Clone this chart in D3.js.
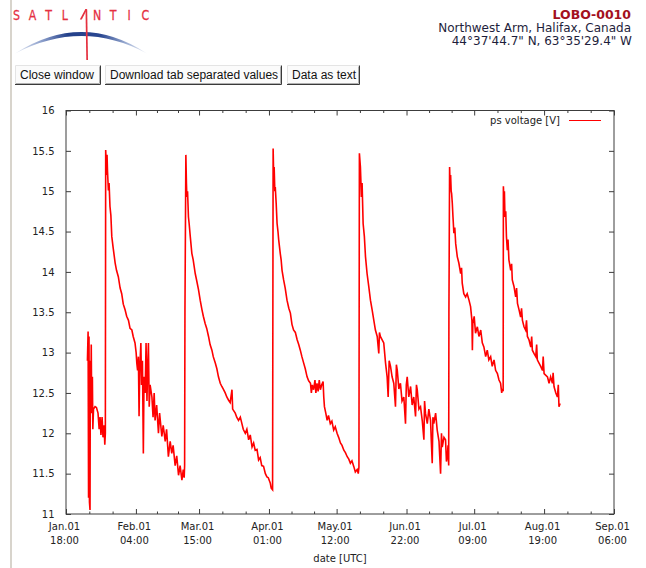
<!DOCTYPE html>
<html>
<head>
<meta charset="utf-8">
<script src="https://cdn.jsdelivr.net/npm/d3@7"></script>
<style>
  body { margin: 0; background: #fff; }
  svg { display: block; }
</style>
</head>
<body>
<svg id="chart"></svg>
<script>
// --- data ---
const station = "LOBO-0010";
const place = "Northwest Arm, Halifax, Canada";
const coords = "44°37'44.7\" N, 63°35'29.4\" W";
const buttonLabels = ["Close window", "Download tab separated values", "Data as text"];
const logoLetters = ["S", "A", "T", "L", "", "N", "T", "I", "C"];

const yTicks = [11, 11.5, 12, 12.5, 13, 13.5, 14, 14.5, 15, 15.5, 16];
const monthStarts = ["2011-01-01", "2011-02-01", "2011-03-01", "2011-04-01", "2011-05-01",
  "2011-06-01", "2011-07-01", "2011-08-01", "2011-09-01"];
const tickDates = ["Jan.01", "Feb.01", "Mar.01", "Apr.01", "May.01", "Jun.01", "Jul.01", "Aug.01", "Sep.01"];
const tickHours = ["18:00", "04:00", "15:00", "01:00", "12:00", "22:00", "09:00", "19:00", "06:00"];
const seriesName = "ps voltage [V]";
const xTitle = "date [UTC]";

// [days after Jan.01, volts]
const voltage = [
  [9.5,12.9],[9.8,13.26],[10.0,11.2],[10.2,13.2],[10.4,11.15],[10.65,11.05],[10.8,12.9],[11.0,12.3],
  [11.2,13.1],[11.4,12.25],[11.7,12.7],[11.9,12.05],[12.2,12.3],[12.9,12.33],[13.5,12.32],[14.2,12.25],
  [14.7,12.05],[15.1,12.2],[15.5,11.98],[16.0,12.2],[16.4,11.95],[16.9,12.1],[17.2,11.86],[17.45,12.0],
  [17.6,15.51],[18.0,15.2],[18.2,15.45],[18.4,15.25],[18.8,15.01],[19.1,15.1],[19.5,14.81],[19.9,14.7],
  [20.3,14.44],[20.9,14.3],[21.8,14.11],[22.4,14.02],[23.2,13.94],[24.0,13.8],[24.7,13.73],[25.4,13.6],
  [26.2,13.53],[26.9,13.45],[27.7,13.4],[28.4,13.3],[29.2,13.28],[29.8,13.2],[30.6,13.12],[31.1,13.0],
  [31.4,12.87],[31.75,12.78],[32.1,12.95],[32.4,12.21],[32.7,12.8],[33.2,13.12],[33.5,12.6],[33.9,12.9],
  [34.3,11.75],[34.6,12.7],[35.1,12.5],[35.5,13.12],[35.9,12.4],[36.2,12.8],[36.55,13.12],[36.9,12.33],
  [37.3,12.6],[38.1,12.45],[38.6,12.2],[39.1,12.5],[39.5,12.16],[40.2,12.35],[41.0,12.0],[41.5,12.25],
  [42.5,11.96],[43.1,12.1],[44.0,11.9],[44.6,12.05],[45.4,11.71],[46.2,11.9],[46.9,11.75],[47.5,11.85],
  [48.4,11.6],[49.1,11.72],[49.9,11.48],[50.6,11.6],[51.4,11.42],[52.0,11.55],[52.4,11.45],[52.6,11.6],
  [52.75,13.53],
  [53.15,15.45],[53.4,15.1],[53.6,14.93],[53.9,15.0],[54.3,14.68],[54.6,14.6],[55.1,14.44],[55.8,14.23],
  [56.4,14.15],[57.3,13.98],[57.9,13.9],[58.75,13.78],[59.5,13.65],[60.3,13.53],[60.9,13.45],[61.7,13.36],
  [62.4,13.3],[63.2,13.2],[63.9,13.1],[64.7,13.03],[65.3,12.95],[66.2,12.87],[66.9,12.8],[67.6,12.7],
  [68.4,12.62],[69.1,12.58],[69.7,12.55],[70.6,12.5],[71.3,12.45],[72.1,12.41],[72.8,12.38],[73.6,12.54],
  [73.9,12.3],[75.05,12.25],[75.7,12.2],[76.5,12.16],[77.3,12.2],[78.0,12.12],[78.6,12.05],[79.5,12.0],
  [80.2,12.05],[81.0,11.92],[81.7,11.98],[82.5,11.83],[83.2,11.88],[83.9,11.79],[84.7,11.8],[85.4,11.67],
  [86.1,11.7],[86.8,11.6],[87.6,11.59],[88.4,11.5],[89.1,11.46],[89.7,11.45],[90.6,11.38],[91.0,11.32],
  [91.6,11.3],
  [91.85,15.53],[92.05,15.25],[92.3,15.3],[92.6,15.0],[92.8,15.05],[93.2,14.85],[93.6,14.6],[94.0,14.5],
  [94.3,14.4],[95.0,14.23],[95.4,14.15],[95.8,14.02],[96.5,13.9],[97.2,13.8],[98.0,13.65],[98.8,13.55],
  [99.5,13.49],[100.2,13.35],[100.9,13.28],[101.7,13.25],[102.5,13.16],[103.2,13.1],[103.9,13.03],
  [104.6,12.95],[105.4,12.87],[106.1,12.8],[106.9,12.7],[107.6,12.65],[108.4,12.62],[108.8,12.5],
  [109.2,12.6],[109.8,12.54],[110.4,12.66],[110.8,12.5],[111.3,12.62],[111.8,12.52],[112.3,12.66],
  [112.8,12.54],[113.4,12.6],[114.0,12.64],[114.3,12.45],[114.6,12.33],[115.2,12.25],[115.8,12.16],
  [116.4,12.22],[117.2,12.12],[117.9,12.15],[118.7,12.04],[119.4,12.08],[120.2,12.0],[120.9,11.95],
  [121.7,11.88],[122.4,11.85],[123.2,11.79],[123.9,11.76],[124.7,11.71],[125.4,11.68],[126.1,11.63],
  [126.8,11.66],[127.6,11.59],[128.3,11.52],[129.1,11.55],[129.6,11.5],[129.9,11.58],
  [130.1,15.47],[130.55,15.3],[131.0,14.93],[131.3,15.1],[131.75,14.6],[132.3,14.44],[132.8,14.19],
  [133.5,13.98],[134.25,13.82],[135.0,13.65],[135.75,13.53],[136.5,13.4],[137.2,13.28],[138.0,13.2],
  [138.7,12.99],[139.0,13.25],[139.4,13.2],[140.9,13.12],[141.7,12.87],[142.4,12.7],[142.85,12.45],
  [143.3,12.9],[143.9,12.83],[144.6,12.7],[145.35,12.62],[146.1,12.33],[146.5,12.85],[146.9,12.78],
  [147.6,12.55],[148.3,12.62],[149.0,12.4],[149.8,12.45],[150.55,12.12],[150.9,12.6],[151.3,12.7],
  [152.0,12.45],[152.8,12.58],[153.5,12.35],[154.2,12.45],[155.0,12.21],[155.4,12.6],[155.75,12.54],
  [156.5,12.3],[157.2,12.33],[158.0,12.15],[158.7,11.92],[159.0,12.4],[159.4,12.25],[160.2,12.12],
  [160.9,12.3],[161.65,12.16],[162.0,11.9],[162.4,11.63],[162.7,12.2],[163.1,12.12],[163.9,12.25],
  [164.6,12.04],[165.4,11.9],[166.1,11.5],[166.5,12.0],[166.85,11.83],[167.6,11.95],[168.3,11.92],
  [168.7,11.65],[169.1,11.71],[169.4,11.85],[169.7,11.6],[169.8,13.49],
  [170.1,15.3],[170.3,15.1],[170.55,15.2],[170.8,15.0],[171.0,14.97],[171.3,14.85],[171.6,14.68],
  [172.0,14.48],[172.4,14.55],[172.8,14.35],[173.5,14.19],[174.2,14.11],[175.0,13.98],[175.4,14.05],
  [175.7,13.86],[176.4,13.73],[177.2,13.69],[177.9,13.73],[178.7,13.65],[179.4,13.57],[180.0,13.4],
  [180.2,13.03],[180.4,13.36],[181.0,13.45],[181.6,13.24],[182.4,13.32],[183.1,13.2],[183.9,13.28],
  [184.6,13.12],[185.3,13.07],[186.1,12.95],[186.8,13.03],[187.5,12.91],[188.3,12.95],[189.0,12.83],
  [189.8,12.91],[190.5,12.78],[191.3,12.74],[192.0,12.66],[192.7,12.62],[193.2,12.5],[193.5,12.55],
  [193.85,12.52],
  [193.95,15.06],[194.2,14.89],[194.4,15.0],[194.65,14.68],[195.0,14.75],[195.3,14.44],[195.7,14.27],
  [196.0,14.4],[196.4,14.15],[197.2,14.02],[197.6,14.1],[197.9,13.9],[198.65,13.82],[199.4,13.69],
  [199.8,13.8],[200.2,13.61],[200.9,13.53],[201.6,13.44],[202.0,13.55],[202.4,13.4],[203.1,13.32],
  [203.8,13.28],[204.2,13.4],[204.6,13.2],[205.3,13.16],[206.1,13.07],[206.5,13.2],[206.8,13.03],
  [207.5,12.99],[208.3,12.95],[208.7,13.1],[209.0,12.91],[209.75,12.87],[210.5,12.83],[211.3,12.78],
  [211.6,12.95],[212.0,12.74],[213.5,12.7],[214.2,12.62],[214.9,12.7],[215.7,12.62],[216.0,12.75],
  [216.4,12.58],[217.2,12.5],[217.9,12.45],[218.3,12.6],[218.6,12.33],[219.1,12.37]
];

// --- layout ---
const W = 646, H = 568;
const plot = { left: 66, right: 614, top: 110.5, bottom: 514 };
const t0 = Date.UTC(2011, 0, 1);
const dayToDate = (d) => new Date(t0 + d * 864e5);

const svg = d3.select("#chart").attr("width", W).attr("height", H);
svg.append("rect").attr("width", W).attr("height", H).attr("fill", "#fff");
svg.append("rect").attr("x", 10).attr("y", 0).attr("width", 2).attr("height", H).attr("fill", "#d8d4cc");

// --- logo ---
const defs = svg.append("defs");
const grad = defs.append("linearGradient").attr("id", "arcGrad")
  .attr("x1", 0).attr("x2", 1).attr("y1", 0).attr("y2", 0);
[[0, "#e8edf6"], [0.2, "#8da0cc"], [0.4, "#23408a"], [0.65, "#2a4791"], [0.85, "#9fb0d4"], [1, "#eef1f8"]]
  .forEach(([o, c]) => grad.append("stop").attr("offset", o).attr("stop-color", c));

svg.append("path")
  .attr("d", "M15,53.5 Q82,10.5 147,53.5 Q82,18.5 15,53.5 Z")
  .attr("fill", "url(#arcGrad)");

const logoRed = "#e5303f";
const logo = svg.append("g").attr("fill", logoRed).attr("stroke", logoRed).attr("stroke-width", 0.3)
  .style("font-family", "'DejaVu Sans', sans-serif").style("font-size", "14.5px");
logoLetters.forEach((l, i) => {
  if (!l) return;
  logo.append("text")
    .attr("transform", `translate(${16.5 + i * 16.1},19.6) scale(0.76,1)`)
    .attr("text-anchor", "middle").text(l);
});
// the caret "A" and its mast
svg.append("path").attr("d", "M79.8,19.6 L85.4,9 L87.2,9 L81.8,19.6 Z").attr("fill", logoRed);
svg.append("path").attr("d", "M85.5,9.5 L87.2,9.5 L88,60 L86.3,60 Z").attr("fill", logoRed);

// --- header text ---
const hdr = svg.append("g").attr("text-anchor", "end")
  .style("font-family", "'DejaVu Sans', Verdana, sans-serif");
hdr.append("text").attr("x", 631).attr("y", 18.5).attr("fill", "#a3111e")
  .style("font-size", "12.5px").style("font-weight", "bold").text(station);
hdr.append("text").attr("x", 631).attr("y", 31.5).attr("fill", "#1e1e3c")
  .style("font-size", "12px").text(place);
hdr.append("text").attr("x", 632).attr("y", 45).attr("fill", "#1e1e3c")
  .style("font-size", "12px").text(coords);

// --- buttons ---
const buttonBoxes = [[15, 101], [105, 282], [287, 360]];
buttonLabels.forEach((label, i) => {
  const [x0, x1] = buttonBoxes[i];
  const b = svg.append("g");
  b.append("rect").attr("x", x0).attr("y", 65.5).attr("width", x1 - x0).attr("height", 19)
    .attr("fill", "#fbfbfb");
  b.append("path").attr("d", `M${x0},84.5 H${x1 - 0.5} V65.5`)
    .attr("fill", "none").attr("stroke", "#3a3a3a").attr("stroke-width", 1);
  b.append("path").attr("d", `M${x0 + 1},83.5 H${x1 - 1.5} V66.5`)
    .attr("fill", "none").attr("stroke", "#b0b0b0").attr("stroke-width", 1);
  b.append("path").attr("d", `M${x0 + 0.5},84 V65.5 H${x1 - 1}`)
    .attr("fill", "none").attr("stroke", "#e4e4e4").attr("stroke-width", 1);
  b.append("text").attr("x", x0 + 5).attr("y", 79.3)
    .style("font-family", "'Liberation Sans', Arial, sans-serif").style("font-size", "12px")
    .attr("fill", "#111").text(label);
});

// --- chart ---
const x = d3.scaleUtc().domain([new Date(t0), new Date(Date.UTC(2011, 8, 1))])
  .range([plot.left, plot.right]);
const y = d3.scaleLinear().domain([11, 16]).range([plot.bottom, plot.top]);

const monthDates = monthStarts.map((s) => new Date(s + "T00:00:00Z"));
const minorDates = [];
for (let i = 0; i < monthDates.length - 1; i++) {
  const a = +monthDates[i], b = +monthDates[i + 1];
  minorDates.push(new Date(a + (b - a) / 3), new Date(a + (2 * (b - a)) / 3));
}

const axisFont = (g) => g.style("font-family", "'DejaVu Sans', sans-serif").style("font-size", "10px");
const tidy = (g) => {
  g.select(".domain").remove();
  g.selectAll(".tick line").attr("stroke", "#3c3c3c");
};

// bottom major ticks with two-line labels
svg.append("g").attr("transform", `translate(0,${plot.bottom})`)
  .call(d3.axisBottom(x).tickValues(monthDates).tickSize(-5).tickFormat(""))
  .call(tidy).call(axisFont)
  .call((g) => {
    g.selectAll(".tick text").remove();
    g.selectAll(".tick").each(function (d, i) {
      const t = d3.select(this);
      t.append("text").attr("x", -2).attr("y", 16).attr("text-anchor", "middle")
        .attr("fill", "#222").text(tickDates[i]);
      t.append("text").attr("x", -2).attr("y", 30).attr("text-anchor", "middle")
        .attr("fill", "#222").text(tickHours[i]);
    });
  });
svg.append("g").attr("transform", `translate(0,${plot.bottom})`)
  .call(d3.axisBottom(x).tickValues(minorDates).tickSize(-2.5).tickFormat(""))
  .call(tidy);
// mirrored top ticks
svg.append("g").attr("transform", `translate(0,${plot.top})`)
  .call(d3.axisTop(x).tickValues(monthDates).tickSize(-5).tickFormat(""))
  .call(tidy);
svg.append("g").attr("transform", `translate(0,${plot.top})`)
  .call(d3.axisTop(x).tickValues(minorDates).tickSize(-2.5).tickFormat(""))
  .call(tidy);

// left ticks with labels, mirrored right ticks
svg.append("g").attr("transform", `translate(${plot.left},0)`)
  .call(d3.axisLeft(y).tickValues(yTicks).tickSize(-5).tickPadding(11.5).tickFormat(d3.format("")))
  .call(tidy).call(axisFont)
  .call((g) => g.selectAll(".tick text").attr("fill", "#222"));
svg.append("g").attr("transform", `translate(${plot.right},0)`)
  .call(d3.axisRight(y).tickValues(yTicks).tickSize(-5).tickFormat(""))
  .call(tidy);

// frame
svg.append("rect")
  .attr("x", plot.left).attr("y", plot.top)
  .attr("width", plot.right - plot.left).attr("height", plot.bottom - plot.top)
  .attr("fill", "none").attr("stroke", "#3c3c3c").attr("stroke-width", 1);

// series
const line = d3.line()
  .x((d) => x(dayToDate(d[0])))
  .y((d) => y(d[1]));
svg.append("path").datum(voltage)
  .attr("d", line)
  .attr("fill", "none").attr("stroke", "#ff0000").attr("stroke-width", 1.6)
  .attr("stroke-linejoin", "miter");

// legend
const legend = svg.append("g").call(axisFont);
legend.append("text").attr("x", 560).attr("y", 124).attr("text-anchor", "end")
  .attr("fill", "#222").text(seriesName);
legend.append("line").attr("x1", 569).attr("x2", 601).attr("y1", 120.5).attr("y2", 120.5)
  .attr("stroke", "#ff0000").attr("stroke-width", 1);

// axis title
svg.append("text").attr("x", (plot.left + plot.right) / 2).attr("y", 562)
  .attr("text-anchor", "middle").attr("fill", "#222").call(axisFont).text(xTitle);
</script>
</body>
</html>
